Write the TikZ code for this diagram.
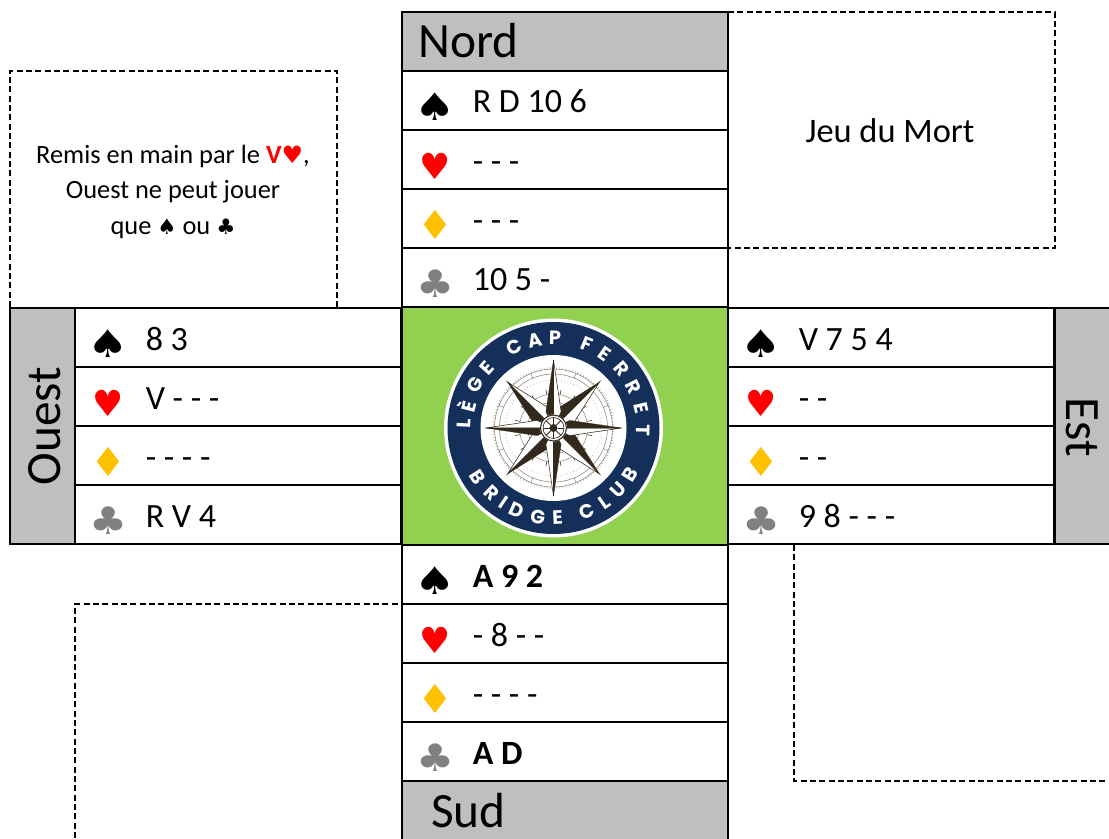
\documentclass[tikz,border=0pt]{standalone}
\usepackage{fontspec}
\setmainfont{Carlito}
\newfontfamily\suitfont{DejaVu Sans}
\newfontfamily\logofont{Poppins}
\usetikzlibrary{calc}
\definecolor{headgrey}{HTML}{BFBFBF}
\definecolor{fieldgreen}{HTML}{92D050}
\definecolor{diamondgold}{HTML}{FFC000}
\definecolor{clubgrey}{HTML}{808080}
\definecolor{heartred}{HTML}{FF0000}
\definecolor{logonavy}{HTML}{14305A}
\definecolor{logobrown}{HTML}{33281C}
\definecolor{logoline}{HTML}{8A8378}
\tikzset{
  cellbox/.style={draw=black,line width=1.5pt,fill=white,minimum width=244.5pt,minimum height=44.25pt,inner sep=0pt,outer sep=0pt,anchor=north west},
  headbox/.style={draw=black,line width=1.5pt,fill=headgrey,inner sep=0pt,outer sep=0pt,anchor=north west},
  suitmark/.style={inner sep=0pt,font=\suitfont\fontsize{30}{30}\selectfont,anchor=center},
  cardtext/.style={inner sep=0pt,anchor=base west,font=\fontsize{25.5}{28}\selectfont},
  headtext/.style={inner sep=0pt,font=\fontsize{37}{40}\selectfont},
  notetext/.style={inner sep=0pt,anchor=center,font=\fontsize{19.8}{22}\selectfont},
  dashline/.style={draw=black,line width=1.25pt,dash pattern=on 4.5pt off 2.5pt},
  logoletter/.style={inner sep=0pt,text=white,font=\logofont\bfseries\fontsize{14.5}{14.5}\selectfont},
  facetdark/.style={fill=logobrown,draw=logobrown,line width=.2pt},
  facetlight/.style={fill=white,draw=logobrown,line width=.4pt},
  ringline/.style={draw=logoline,line width=.4pt}
}
\newcommand{\spadeS}{\scalebox{1.15}[.95]{\textcolor{black}{♠}}}
\newcommand{\heartS}{\scalebox{.87}[.9]{\textcolor{heartred}{♥}}}
\newcommand{\diamS}{\textcolor{diamondgold}{♦}}
\newcommand{\clubS}{\scalebox{1.06}[.95]{\textcolor{clubgrey}{♣}}}
% name, x, y, suit, text
\newcommand{\cardrow}[5]{%
  \node[cellbox] (#1) at (#2,#3) {};
  \node[suitmark] (#1s) at ($(#2,#3)+(33.5,36)$) {#4};
  \node[cardtext] (#1t) at ($(#2,#3)+(70.5,42)$) {#5};
}
\begin{document}
\begin{tikzpicture}[x=.75pt,y=-.75pt]
\useasboundingbox (0,0) rectangle (1109,838);
% dashed boxes
\draw[dashline] (10,307) -- (10,71) -- (337,71) -- (337,307);
\draw[dashline] (728,12) -- (1055,12) -- (1055,248) -- (728,248);
\draw[dashline] (75,838) -- (75,604) -- (402,604);
\draw[dashline] (794,545) -- (794,781) -- (1109,781);
% Nord
\node[headbox,minimum width=244.5pt,minimum height=44.25pt] (nordhead) at (402,12) {};
\node[headtext,anchor=base west] (nordlabel) at (418,58) {Nord};
\cardrow{ns}{402}{71}{\spadeS}{R D 10 6}
\cardrow{nh}{402}{130}{\heartS}{- - -}
\cardrow{nd}{402}{189}{\diamS}{- - -}
\cardrow{nc}{402}{248}{\clubS}{10 5 -}
% Ouest
\node[headbox,minimum width=48.75pt,minimum height=177pt] (ouesthead) at (10,308) {};
\node[headtext,rotate=90] (ouestlabel) at (45,426) {Ouest};
\cardrow{os}{75}{308}{\spadeS}{8 3}
\cardrow{oh}{75}{367}{\heartS}{V - - -}
\cardrow{od}{75}{426}{\diamS}{- - - -}
\cardrow{oc}{75}{485}{\clubS}{R V 4}
% Est
\cardrow{es}{728}{308}{\spadeS}{V 7 5 4}
\cardrow{eh}{728}{367}{\heartS}{- -}
\cardrow{ed}{728}{426}{\diamS}{- -}
\cardrow{ec}{728}{485}{\clubS}{9 8 - - -}
\node[headbox,minimum width=48.75pt,minimum height=177pt] (esthead) at (1055,308) {};
\node[headtext,rotate=-90] (estlabel) at (1082,427) {Est};
% Sud
\cardrow{ss}{402}{545}{\spadeS}{\textbf{A 9 2}}
\cardrow{sh}{402}{604}{\heartS}{- 8 - -}
\cardrow{sd}{402}{663}{\diamS}{- - - -}
\cardrow{sc}{402}{722}{\clubS}{\textbf{A D}}
\node[headbox,minimum width=244.5pt,minimum height=48pt] (sudhead) at (402,781) {};
\node[headtext,anchor=base west] (sudlabel) at (431,827) {Sud};
% centre
\node[draw=black,line width=1.5pt,fill=fieldgreen,minimum width=244.5pt,minimum height=178.5pt,inner sep=0pt,outer sep=0pt,anchor=north west] (field) at (402,307) {};
% notes
\node[notetext] (note1) at (173,156) {Remis en main par le \textcolor{heartred}{\textbf{V}{\suitfont\fontsize{18}{20}\selectfont ♥}},};
\node[notetext] (note2) at (173,191.5) {Ouest ne peut jouer};
\node[notetext] (note3) at (173,229) {que {\suitfont\fontsize{16}{20}\selectfont ♠} ou {\suitfont\fontsize{16}{20}\selectfont ♣}};
\node[inner sep=0pt,font=\fontsize{25.8}{28}\selectfont] (mort) at (890,131) {Jeu du Mort};
% logo
\begin{scope}[shift={(553.5,428)},yscale=-1]
  \fill[white] (0,0) circle (109.5);
  \fill[logonavy] (0,0) circle (106);
  \fill[white] (0,0) circle (73);
  \draw[ringline] (0,0) circle (59);
  \draw[ringline] (0,0) circle (54);
  \draw[ringline,dotted] (0,0) circle (48);
  \draw[ringline] (0,0) circle (34);
  \draw[ringline] (0,0) circle (26);
  \foreach \a in {0,3,...,357} \draw[ringline,line width=.25pt] (\a:59) -- (\a:61);
  \foreach \a in {0,22.5,...,350} \draw[ringline] (\a:54) -- (\a:59);
  \foreach \a in {11.25,33.75,...,350} \draw[logobrown,line width=.4pt] (\a:34) -- (\a:39);
  % diagonal points
  \foreach \a in {45,135,225,315}{
    \fill[facetlight] (0,0) -- (\a:65) -- (\a-28:22) -- cycle;
    \fill[facetdark] (0,0) -- (\a:65) -- (\a+28:22) -- cycle;
  }
  % main points
  \foreach \a in {0,90,180,270}{
    \fill[facetlight] (0,0) -- (\a:68) -- (\a-25:18) -- cycle;
    \fill[facetdark] (0,0) -- (\a:68) -- (\a+25:18) -- cycle;
  }
  \fill[white] (0,0) circle (13.5);
  \draw[logobrown,line width=.8pt] (0,0) circle (13);
  \draw[logobrown,line width=.5pt] (0,0) circle (10.5);
  \foreach \a in {0,45,...,315} \draw[logobrown,line width=.6pt] (\a:4) -- (\a:10.5);
  \fill[logobrown] (0,0) circle (4);
  % ring lettering
  \foreach \ch/\a in {L/177,È/166,G/151,E/138,C/116,A/102,P/89,F/68,E/55,R/41,R/27,E/13,T/-1.5}
    \node[logoletter,rotate=\a-90] at (\a:90) {\ch};
  \foreach \ch/\a in {B/213,R/226.5,I/236,D/246,G/260,E/272.5,C/292,L/304.5,U/316.5,B/328.6}
    \node[logoletter,rotate=\a+90] at (\a:90) {\ch};
\end{scope}
\end{tikzpicture}
\end{document}
